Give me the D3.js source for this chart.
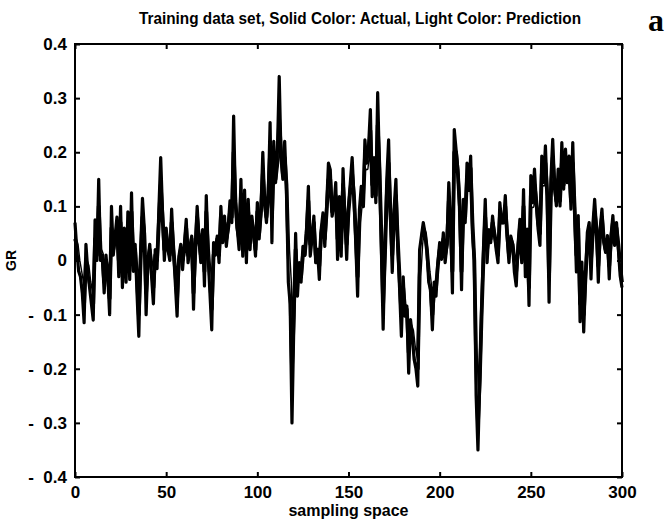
<!DOCTYPE html>
<html>
<head>
<meta charset="utf-8">
<script src="https://cdnjs.cloudflare.com/ajax/libs/d3/7.8.5/d3.min.js"></script>
<style>
  body { margin: 0; background: #fff; }
  text { font-family: "Liberation Sans", Arial, sans-serif; font-weight: bold; fill: #000; }
</style>
</head>
<body>
<svg id="chart" width="672" height="529"></svg>
<script>
  var width = 672, height = 529
  var margin = {top: 44, right: 50, bottom: 52, left: 75}

  // sample index 0..300 along x
  var actual = [
    0.07, 0.02, -0.02, -0.03, -0.06, -0.115, 0.03, -0.02, -0.05, -0.08,
    -0.11, 0.075, 0.0, 0.15, 0.0, 0.01, -0.06, 0.01, -0.03, -0.1,
    0.1, 0.01, 0.045, 0.08, -0.03, 0.1, -0.05, 0.06, -0.04, 0.09,
    -0.035, 0.125, -0.02, 0.03, -0.06, -0.14, 0.02, 0.115, 0.06, -0.1,
    0.0, 0.03, -0.03, -0.08, 0.02, -0.015, 0.095, 0.19, 0.09, 0.0,
    0.06, 0.02, 0.0, 0.095, 0.02, -0.04, -0.103, 0.008, 0.03, -0.017,
    0.03, 0.076, -0.004, 0.02, 0.045, -0.09, 0.026, 0.10, 0.04, -0.004,
    0.057, -0.047, 0.12, 0.008, -0.06, -0.128, 0.033, 0.01, 0.045, -0.004,
    0.10, 0.033, 0.082, 0.026, 0.06, 0.11, 0.07, 0.267, 0.107, 0.06,
    0.02, 0.15, 0.008, 0.13, -0.004, 0.113, 0.02, 0.082, 0.05, 0.008,
    0.107, 0.04, 0.094, 0.2, 0.107, 0.07, 0.12, 0.255, 0.033, 0.22,
    0.144, 0.2, 0.34, 0.19, 0.15, 0.22, 0.13, -0.04, -0.08, -0.3,
    -0.12, 0.05, -0.066, -0.004, -0.04, 0.026, 0.01, 0.057, 0.137, 0.008,
    0.04, 0.082, -0.004, 0.02, -0.035, 0.057, 0.088, 0.026, 0.1, 0.18,
    0.168, 0.082, 0.1, 0.144, 0.002, 0.118, 0.008, 0.17, 0.08, 0.002,
    0.1, 0.144, 0.19, 0.118, 0.03, -0.066, 0.094, 0.137, 0.1, 0.223,
    0.18, 0.21, 0.279, 0.118, 0.19, 0.107, 0.31, 0.168, 0.026, -0.127,
    0.026, 0.15, 0.223, 0.082, -0.022, 0.094, 0.15, 0.026, -0.05, -0.14,
    -0.03, -0.103, -0.084, -0.208, -0.109, -0.14, -0.183, -0.2, -0.232, 0.02,
    0.045, 0.07, 0.05, 0.02, -0.04, -0.054, -0.128, -0.04, -0.066, -0.004,
    0.033, 0.002, 0.051, -0.004, 0.03, 0.144, 0.07, -0.06, 0.242, 0.205,
    0.168, 0.094, -0.054, 0.113, 0.07, 0.18, 0.13, 0.193, 0.05, 0.0,
    -0.25, -0.35, -0.22, -0.09, 0.02, 0.113, -0.004, 0.057, 0.033, 0.082,
    0.05, 0.02, -0.004, 0.107, 0.07, 0.07, 0.12, 0.045, -0.004, 0.045,
    0.03, -0.022, -0.047, 0.03, 0.076, -0.004, 0.131, -0.03, 0.058, -0.083,
    0.157, 0.107, 0.169, 0.107, 0.058, 0.028, 0.193, 0.144, 0.212, 0.12,
    -0.077, 0.15, 0.224, 0.138, 0.101, 0.169, 0.101, 0.218, 0.132, 0.206,
    0.144, 0.193, 0.095, 0.218, 0.089, -0.021, 0.083, -0.113, -0.003, -0.132,
    -0.028, 0.052, 0.07, -0.034, 0.064, 0.113, 0.058, -0.04, 0.058, 0.095,
    0.034, 0.015, 0.046, -0.034, 0.046, 0.083, 0.028, 0.07, 0.021, -0.028,
    -0.05
  ]

  var prediction = [
    0.04, 0.03, 0.0, -0.02, -0.04, -0.08, 0.0, -0.01, -0.04, -0.06,
    -0.08, 0.04, 0.01, 0.1, 0.02, 0.01, -0.04, 0.0, -0.02, -0.07,
    0.06, 0.02, 0.04, 0.06, 0.0, 0.07, -0.02, 0.04, -0.01, 0.06,
    0.0, 0.09, 0.01, 0.02, -0.03, -0.1, 0.0, 0.08, 0.05, -0.06,
    0.0, 0.02, -0.01, -0.05, 0.01, 0.0, 0.07, 0.14, 0.08, 0.02,
    0.05, 0.02, 0.01, 0.07, 0.02, -0.02, -0.07, 0.0, 0.02, 0.0,
    0.02, 0.06, 0.01, 0.02, 0.04, -0.06, 0.02, 0.08, 0.04, 0.01,
    0.05, -0.02, 0.09, 0.02, -0.03, -0.09, 0.01, 0.02, 0.04, 0.01,
    0.08, 0.04, 0.07, 0.04, 0.06, 0.09, 0.08, 0.2, 0.11, 0.06,
    0.04, 0.12, 0.03, 0.1, 0.02, 0.09, 0.04, 0.07, 0.05, 0.02,
    0.09, 0.05, 0.09, 0.16, 0.11, 0.08, 0.12, 0.2, 0.08, 0.18,
    0.15, 0.18, 0.26, 0.2, 0.16, 0.19, 0.14, 0.02, -0.04, -0.2,
    -0.1, 0.02, -0.04, -0.01, -0.03, 0.01, 0.01, 0.05, 0.11, 0.03,
    0.04, 0.07, 0.01, 0.02, -0.01, 0.05, 0.07, 0.04, 0.09, 0.15,
    0.15, 0.09, 0.1, 0.12, 0.04, 0.1, 0.03, 0.14, 0.08, 0.03,
    0.09, 0.13, 0.16, 0.12, 0.05, -0.03, 0.07, 0.11, 0.1, 0.19,
    0.17, 0.2, 0.24, 0.14, 0.18, 0.12, 0.25, 0.17, 0.05, -0.08,
    0.01, 0.12, 0.18, 0.09, 0.01, 0.08, 0.12, 0.04, -0.03, -0.1,
    -0.05, -0.09, -0.09, -0.17, -0.12, -0.13, -0.16, -0.18, -0.2, -0.03,
    0.03, 0.06, 0.05, 0.02, -0.02, -0.05, -0.1, -0.05, -0.05, -0.01,
    0.02, 0.01, 0.04, 0.01, 0.03, 0.11, 0.07, -0.02, 0.2, 0.2,
    0.16, 0.1, -0.02, 0.09, 0.08, 0.15, 0.13, 0.17, 0.07, 0.0,
    -0.18, -0.3, -0.22, -0.1, 0.0, 0.08, 0.02, 0.05, 0.04, 0.07,
    0.05, 0.03, 0.01, 0.08, 0.07, 0.07, 0.1, 0.05, 0.01, 0.04,
    0.03, 0.0, -0.02, 0.02, 0.06, 0.01, 0.1, 0.0, 0.04, -0.05,
    0.12, 0.1, 0.14, 0.11, 0.07, 0.05, 0.16, 0.14, 0.18, 0.12,
    -0.03, 0.12, 0.19, 0.14, 0.11, 0.15, 0.11, 0.18, 0.14, 0.18,
    0.15, 0.17, 0.11, 0.18, 0.1, 0.01, 0.06, -0.08, -0.02, -0.1,
    -0.03, 0.03, 0.06, 0.0, 0.05, 0.09, 0.06, -0.01, 0.05, 0.08,
    0.04, 0.02, 0.04, -0.01, 0.04, 0.07, 0.03, 0.06, 0.03, -0.01,
    -0.04
  ]

  var xTicks = [0, 50, 100, 150, 200, 250, 300]
  var yTicks = [-0.4, -0.3, -0.2, -0.1, 0, 0.1, 0.2, 0.3, 0.4]
  var yTickLabels = ["-\u00a0\u00a00.4", "-\u00a0\u00a00.3", "-\u00a0\u00a00.2", "-\u00a0\u00a00.1", "0", "0.1", "0.2", "0.3", "0.4"]

  var svg = d3.select("#chart")

  var x = d3.scaleLinear().domain([0, 300]).range([margin.left, width - margin.right])
  var y = d3.scaleLinear().domain([-0.4, 0.4]).range([height - margin.bottom, margin.top])

  // lines: prediction first (dark casing + light core), actual on top
  var line = d3.line()
    .x(function(d, i) { return x(i) })
    .y(function(d) { return y(d) })

  svg.append("path")
    .datum(prediction)
    .attr("d", line)
    .attr("fill", "none")
    .attr("stroke", "#000")
    .attr("stroke-width", 3.8)
    .attr("stroke-linejoin", "round")

  svg.append("path")
    .datum(prediction)
    .attr("d", line)
    .attr("fill", "none")
    .attr("stroke", "#fff")
    .attr("stroke-width", 1)
    .attr("stroke-linejoin", "round")

  svg.append("path")
    .datum(actual)
    .attr("d", line)
    .attr("fill", "none")
    .attr("stroke", "#000")
    .attr("stroke-width", 3.2)
    .attr("stroke-linejoin", "round")

  // axes, ticks pointing inward on all four sides
  var axisB = d3.axisBottom(x).tickValues(xTicks).tickSize(-5).tickPadding(8)
  var axisT = d3.axisTop(x).tickValues(xTicks).tickSize(-5).tickFormat("")
  var axisL = d3.axisLeft(y).tickValues(yTicks).tickSize(-5).tickPadding(8)
    .tickFormat(function(d, i) { return yTickLabels[i] })
  var axisR = d3.axisRight(y).tickValues(yTicks).tickSize(-5).tickFormat("")

  var gB = svg.append("g").attr("transform", "translate(0," + y(-0.4) + ")").call(axisB)
  var gT = svg.append("g").attr("transform", "translate(0," + y(0.4) + ")").call(axisT)
  var gL = svg.append("g").attr("transform", "translate(" + x(0) + ",0)").call(axisL)
  var gR = svg.append("g").attr("transform", "translate(" + x(300) + ",0)").call(axisR)

  svg.selectAll(".domain").remove()
  svg.selectAll(".tick line").attr("stroke", "#000").attr("stroke-width", 2)
  gB.selectAll("text").attr("font-size", 17).attr("dy", "0.75em")
  gL.selectAll("text").attr("font-size", 17)

  // frame
  svg.append("rect")
    .attr("x", x(0))
    .attr("y", y(0.4))
    .attr("width", x(300) - x(0))
    .attr("height", y(-0.4) - y(0.4))
    .attr("fill", "none")
    .attr("stroke", "#000")
    .attr("stroke-width", 2)

  // labels
  svg.append("text")
    .attr("x", 360)
    .attr("y", 24)
    .attr("text-anchor", "middle")
    .attr("font-size", 16)
    .attr("textLength", 442)
    .attr("lengthAdjust", "spacingAndGlyphs")
    .text("Training data set, Solid Color: Actual, Light Color: Prediction")

  svg.append("text")
    .attr("x", 656)
    .attr("y", 31)
    .attr("text-anchor", "middle")
    .attr("font-size", 32)
    .style("font-family", "'Liberation Serif', 'DejaVu Serif', serif")
    .text("a")

  svg.append("text")
    .attr("x", (x(0) + x(300)) / 2)
    .attr("y", 516)
    .attr("text-anchor", "middle")
    .attr("font-size", 16)
    .text("sampling space")

  svg.append("text")
    .attr("transform", "translate(16," + y(0) + ") rotate(-90)")
    .attr("text-anchor", "middle")
    .attr("font-size", 14)
    .text("GR")
</script>
</body>
</html>
